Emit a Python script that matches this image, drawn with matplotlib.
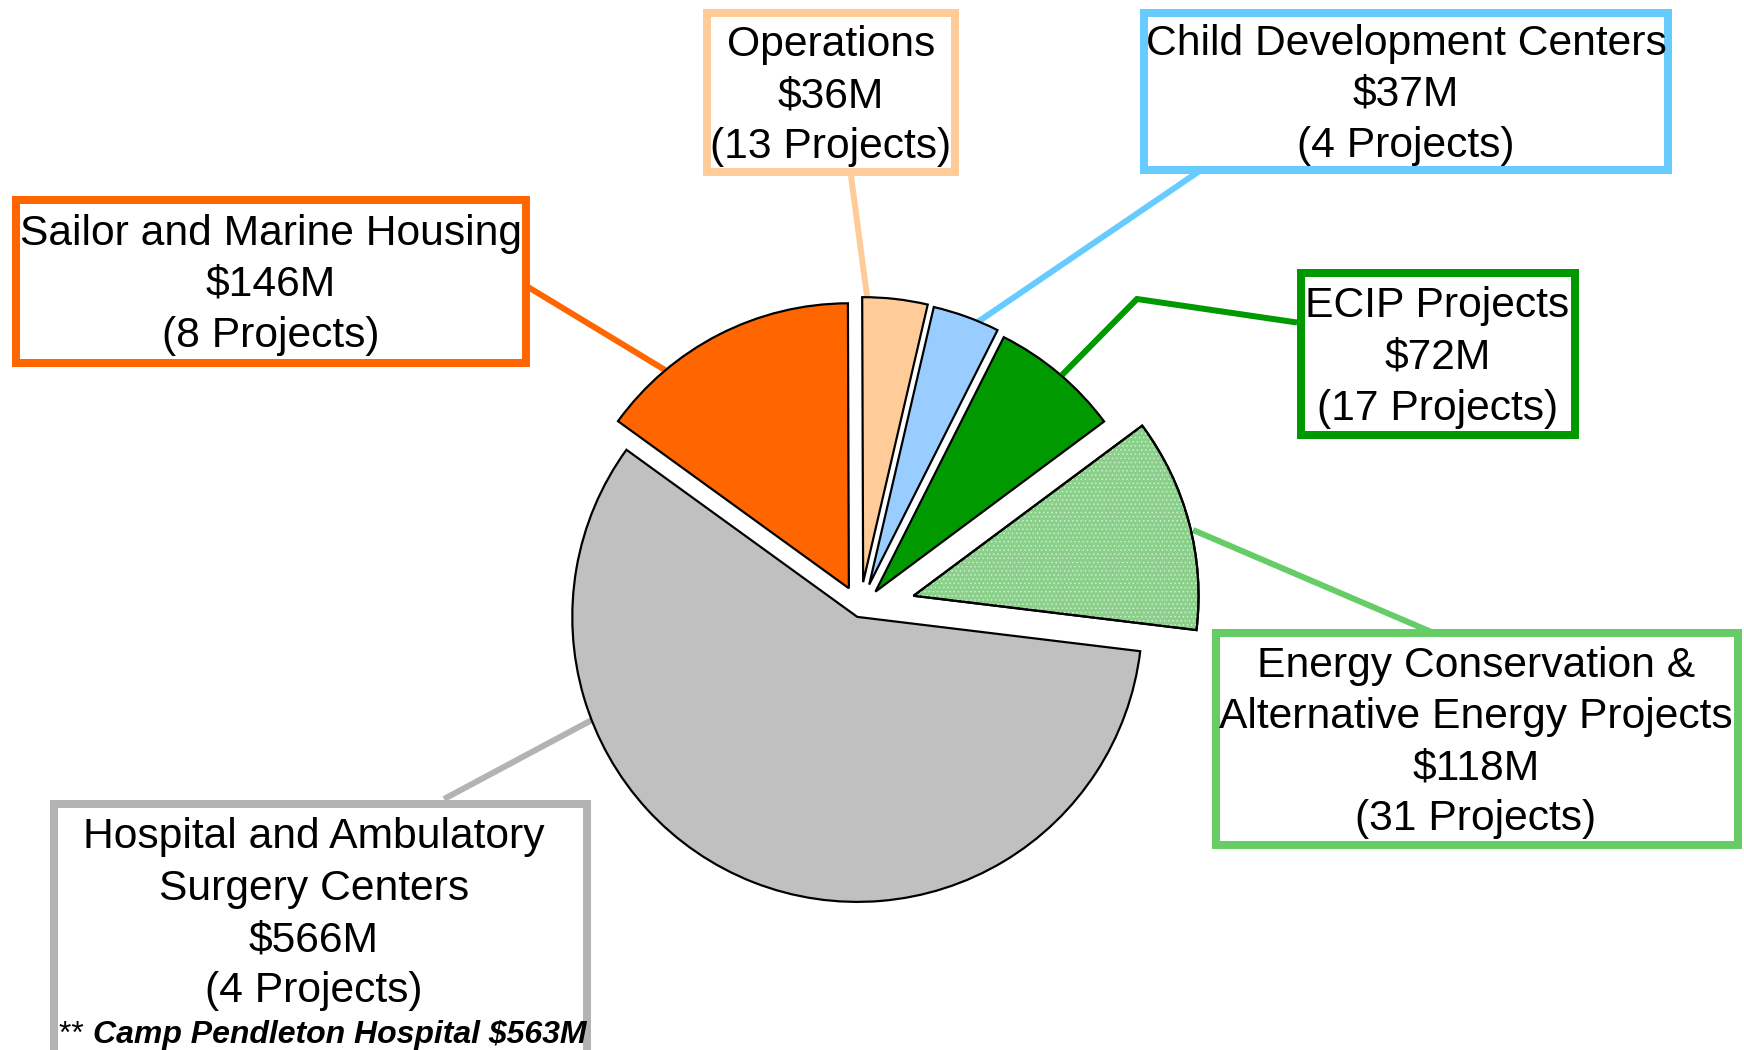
import matplotlib
matplotlib.use("Agg")
import matplotlib.pyplot as plt
from matplotlib.patches import Rectangle, Wedge

# ---------------- data ----------------
categories = ["Sailor and Marine Housing", "Operations", "Child Development Centers",
              "ECIP Projects", "Energy Conservation &\nAlternative Energy Projects",
              "Hospital and Ambulatory\nSurgery Centers"]
values_musd = [146, 36, 37, 72, 118, 566]
project_counts = [8, 13, 4, 17, 31, 4]
note_label = "Camp Pendleton Hospital"
note_value_musd = 563

# ---------------- styles ----------------
slice_colors = ["#FF6600", "#FFCC99", "#99CCFF", "#009900", "#8ACF8A", "#C0C0C0"]
box_colors = ["#FF6600", "#FFCC99", "#66CCFF", "#009900", "#66CC66", "#B3B3B3"]
explode_px = [24.4, 28, 27, 24, 55.4, 7.4]

W, H = 1744, 1050
PX = 72 / 100.0  # points per pixel

plt.rcParams['font.family'] = ['Liberation Sans', 'DejaVu Sans']
plt.rcParams['hatch.linewidth'] = 0.6

fig = plt.figure(figsize=(W / 100, H / 100), dpi=100)
ax = fig.add_axes([0, 0, 1, 1])

def Y(y):
    return H - y

# pie
wedges, _ = ax.pie(values_musd, explode=explode_px, colors=slice_colors, startangle=144.1,
                   counterclock=False, radius=285, center=(860, Y(610)),
                   wedgeprops=dict(edgecolor="black", linewidth=2.2 * PX, zorder=2))

# dotted texture on the energy-conservation slice (copy of the library wedge)
we = wedges[4]
tex = Wedge(we.center, we.r, we.theta1, we.theta2, facecolor="none",
            edgecolor="#CFEFCF", hatch="....", lw=0, zorder=2.5)
ax.add_patch(tex)
ax.add_patch(Wedge(we.center, we.r, we.theta1, we.theta2, facecolor="none",
                   edgecolor="black", lw=2.2 * PX, zorder=2.6))

ax.set_xlim(0, W)
ax.set_ylim(0, H)
ax.set_aspect("auto")
ax.axis("off")

# boxes (border centre lines, y-down pixels): x0, y0, x1, y1
boxes = [
    (15.5, 200, 525.5, 363),
    (707, 13, 955, 172),
    (1144, 13, 1668, 170),
    (1301, 273.3, 1574.5, 435),
    (1216, 633, 1738, 845),
    (54, 804, 587.3, 1070),
]
text_x = [270.5, 831, 1406, 1437.5, 1476, 314]

# connector lines (y-down pixels)
connectors = [
    [(528, 287), (665, 370)],
    [(851, 176), (867.5, 300)],
    [(1201, 170), (966, 330)],
    [(1297, 322.5), (1137, 299), (1062, 375)],
    [(1193, 530), (1433, 632.7)],
    [(444, 799), (598, 716.7)],
]

for pts, col in zip(connectors, box_colors):
    ax.plot([p[0] for p in pts], [Y(p[1]) for p in pts], color=col,
            lw=6 * PX, solid_capstyle="butt", solid_joinstyle="miter", zorder=1)

LINE = 51.3
FS = 42.6 * PX

for i, (cat, v, n) in enumerate(zip(categories, values_musd, project_counts)):
    x0, y0, x1, y1 = boxes[i]
    ax.add_patch(Rectangle((x0, Y(y1)), x1 - x0, y1 - y0, facecolor="white",
                           edgecolor=box_colors[i], lw=8 * PX, joinstyle="miter",
                           zorder=3))
    lines = cat.split("\n") + [f"${v}M", f"({n} Projects)"]
    if i == 5:
        cy = 910.9
    else:
        cy = (y0 + y1) / 2
    nl = len(lines)
    for j, ln in enumerate(lines):
        base = cy + 14.5 + (j - (nl - 1) / 2) * LINE
        ax.text(text_x[i], Y(base), ln, ha="center", va="baseline",
                fontsize=FS, color="black", zorder=4)

# note under hospital box
t1 = ax.text(59, Y(1043), "** ", ha="left", va="baseline", fontsize=32 * PX, zorder=4)
fig.canvas.draw()
bb = t1.get_window_extent()
ax.text(59 + bb.width, Y(1043), f"{note_label} ${note_value_musd}M", ha="left",
        va="baseline", fontsize=32 * PX, fontweight="bold", fontstyle="italic",
        zorder=4)

fig.savefig("out.png", dpi=100, facecolor="white")
